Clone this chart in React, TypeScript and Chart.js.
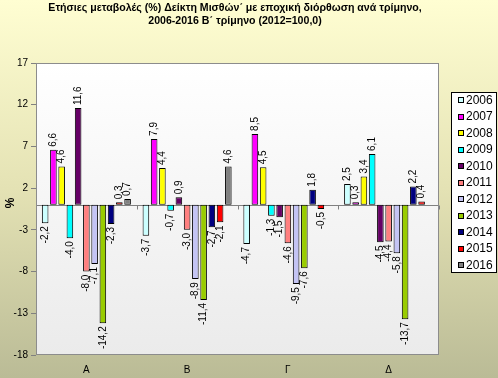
import { useEffect, useRef } from 'react';
import { Chart, registerables } from 'chart.js';

Chart.register(...registerables);

const categories = ['Α', 'Β', 'Γ', 'Δ'];
const years = ['2006', '2007', '2008', '2009', '2010', '2011', '2012', '2013', '2014', '2015', '2016'];
const v2006 = [-2.2, -3.7, -4.7, 2.5];
const v2007 = [6.6, 7.9, 8.5, 0.3];
const v2008 = [4.6, 4.4, 4.5, 3.4];
const v2009 = [-4.0, -0.7, -1.3, 6.1];
const v2010 = [11.6, 0.9, -1.5, -4.5];
const v2011 = [-8.0, -3.0, -4.6, -4.4];
const v2012 = [-7.1, -8.9, -9.5, -5.8];
const v2013 = [-14.2, -11.4, -7.6, -13.7];
const v2014 = [-2.3, -2.7, 1.8, 2.2];
const v2015 = [0.3, -2.1, -0.5, 0.4];
const v2016 = [0.7, 4.6, null, null];
const seriesValues = [v2006, v2007, v2008, v2009, v2010, v2011, v2012, v2013, v2014, v2015, v2016];
const colors = ['#ccffff', '#ff00ff', '#ffff00', '#00ffff', '#660066', '#ff8080', '#c4c4f4', '#99cc00', '#000080', '#ff0000', '#808080'];
const yTicksMin = -18;
const yTicksMax = 17;
const yTickStep = 5;
const titleLines = ['Ετήσιες μεταβολές (%) Δείκτη Μισθών΄ με εποχική διόρθωση ανά τρίμηνο,', '2006-2016 Β΄ τρίμηνο (2012=100,0)'];
const yAxisTitle = '%';

const FONT = '"Liberation Sans", Arial, sans-serif';

const decorPlugin = {
  id: 'decor',
  beforeDraw(chart: any) {
    const { ctx, width, height, chartArea } = chart;
    ctx.save();
    const g = ctx.createLinearGradient(0, 0, 0, height);
    g.addColorStop(0, '#fffed2');
    g.addColorStop(0.5, '#e4e2b4');
    g.addColorStop(1, '#babb96');
    ctx.fillStyle = g;
    ctx.fillRect(0, 0, width, height);
    const pg = ctx.createLinearGradient(0, chartArea.top, 0, chartArea.bottom);
    pg.addColorStop(0, '#ffffff');
    pg.addColorStop(1, '#ebebeb');
    ctx.fillStyle = pg;
    ctx.fillRect(chartArea.left, chartArea.top, chartArea.right - chartArea.left, chartArea.bottom - chartArea.top);
    ctx.restore();
  },
  beforeDatasetsDraw(chart: any) {
    const { ctx, chartArea, scales } = chart;
    const y0 = Math.round(scales.y.getPixelForValue(0)) + 0.5;
    ctx.save();
    ctx.strokeStyle = '#808080';
    ctx.lineWidth = 1;
    ctx.beginPath();
    ctx.moveTo(chartArea.left, y0);
    ctx.lineTo(chartArea.right, y0);
    const n = categories.length;
    const w = (chartArea.right - chartArea.left) / n;
    for (let i = 0; i <= n; i++) {
      const x = Math.round(chartArea.left + i * w) + 0.5;
      ctx.moveTo(x, y0);
      ctx.lineTo(x, y0 + 4);
    }
    ctx.stroke();
    ctx.restore();
  },
  afterDatasetsDraw(chart: any) {
    const { ctx } = chart;
    ctx.save();
    ctx.font = `10px ${FONT}`;
    ctx.fillStyle = '#000';
    ctx.textBaseline = 'middle';
    chart.data.datasets.forEach((ds: any, di: number) => {
      const meta = chart.getDatasetMeta(di);
      meta.data.forEach((el: any, i: number) => {
        const v = ds.data[i];
        if (v === null || v === undefined) return;
        const txt = v.toFixed(1).replace('.', ',');
        ctx.save();
        if (v >= 0) {
          ctx.translate(el.x, el.y - 3);
          ctx.rotate(-Math.PI / 2);
          ctx.textAlign = 'left';
        } else {
          ctx.translate(el.x, el.y + 3);
          ctx.rotate(-Math.PI / 2);
          ctx.textAlign = 'right';
        }
        ctx.fillText(txt, 0, 0);
        ctx.restore();
      });
    });
    ctx.restore();
  },
  afterDraw(chart: any) {
    const { ctx, chartArea } = chart;
    ctx.save();
    ctx.strokeStyle = '#8c8c8c';
    ctx.lineWidth = 1;
    ctx.strokeRect(chartArea.left + 0.5, chartArea.top + 0.5, chartArea.right - chartArea.left - 1, chartArea.bottom - chartArea.top - 1);
    // title
    ctx.fillStyle = '#000';
    ctx.font = `bold 10.6px ${FONT}`;
    ctx.textAlign = 'center';
    ctx.textBaseline = 'middle';
    ctx.fillText(titleLines[0], 235, 8.5);
    ctx.fillText(titleLines[1], 235, 21.5);
    // y-axis title
    ctx.save();
    ctx.translate(11, 203);
    ctx.rotate(-Math.PI / 2);
    ctx.font = `bold 12px ${FONT}`;
    ctx.fillText(yAxisTitle, 0, 0);
    ctx.restore();
    // legend
    const lx = 451, ly = 92, lw = 46, lh = 181;
    ctx.fillStyle = '#ffffff';
    ctx.fillRect(lx, ly, lw, lh);
    ctx.strokeStyle = '#000';
    ctx.strokeRect(lx + 0.5, ly + 0.5, lw - 1, lh - 1);
    ctx.font = `12px ${FONT}`;
    ctx.textAlign = 'left';
    chart.data.datasets.forEach((ds: any, i: number) => {
      const cy = 100 + i * 16.5;
      const sy = Math.round(cy - 3);
      ctx.fillStyle = ds.backgroundColor;
      ctx.fillRect(458, sy, 6, 6);
      ctx.strokeStyle = '#000';
      ctx.strokeRect(458.5, sy + 0.5, 5, 5);
      ctx.fillStyle = '#000';
      ctx.fillText(ds.label, 466, cy + 0.5);
    });
    ctx.restore();
  },
};

export default function App() {
  const ref = useRef<HTMLCanvasElement | null>(null);
  useEffect(() => {
    document.body.style.margin = '0';
    if (!ref.current) return;
    const chart = new Chart(ref.current, {
      type: 'bar',
      data: {
        labels: categories,
        datasets: years.map((y, i) => ({
          label: y,
          data: seriesValues[i],
          backgroundColor: colors[i],
          borderColor: '#000000',
          borderWidth: 1,
          borderSkipped: false,
          categoryPercentage: 0.9,
          barPercentage: 0.8,
        })),
      },
      options: {
        responsive: false,
        animation: false,
        events: [],
        layout: { padding: { top: 63, right: 59, left: 0, bottom: 0 } },
        plugins: {
          legend: { display: false },
          title: { display: false },
          tooltip: { enabled: false },
        },
        scales: {
          x: {
            grid: { display: false, drawTicks: false },
            border: { display: false },
            ticks: { color: '#000', font: { family: FONT, size: 10 }, padding: 9 },
            afterFit: (s: any) => { s.height = 23; },
          },
          y: {
            min: yTicksMin,
            max: yTicksMax,
            grid: { drawOnChartArea: false, drawTicks: true, tickLength: 5, color: '#808080' },
            border: { display: false },
            ticks: { stepSize: yTickStep, color: '#000', font: { family: FONT, size: 10 }, padding: 3 },
            afterFit: (s: any) => { s.width = 36; },
          },
        },
      },
      plugins: [decorPlugin],
    });
    return () => chart.destroy();
  }, []);
  return (
    <div style={{ width: 498, height: 378 }}>
      <canvas ref={ref} width={498} height={378} />
    </div>
  );
}
